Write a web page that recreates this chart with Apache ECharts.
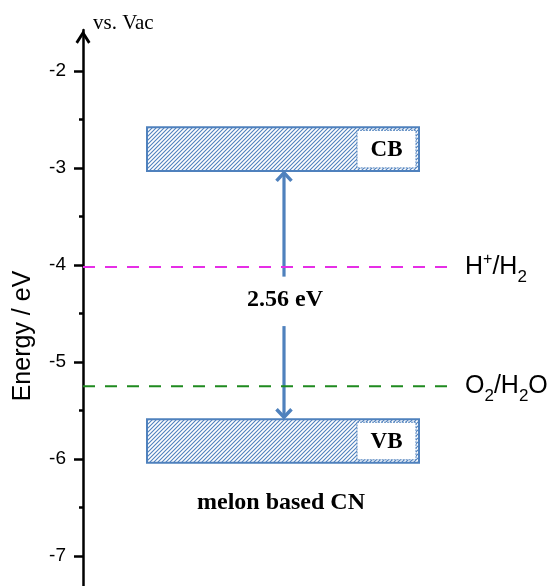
<!DOCTYPE html>
<html>
<head>
<meta charset="utf-8">
<script src="https://cdn.jsdelivr.net/npm/echarts@6/dist/echarts.min.js"></script>
<style>
html, body { margin: 0; padding: 0; background: #fff; }
#main { width: 550px; height: 586px; }
</style>
</head>
<body>
<div id="main"></div>
<script>
// band edges (eV vs. vacuum)
var bandNames = ['CB', 'VB'];
var bandTop = [-2.58, -5.59];
var bandBottom = [-3.03, -6.04];
// redox potentials
var redoxNames = ['H{sup|+}/H{sub|2}', 'O{sub|2}/H{sub|2}O'];
var redoxLevels = [-4.02, -5.25];
var redoxColors = ['#e62ee6', '#1f8a1f'];
var gapText = '2.56 eV';
var sampleText = 'melon based CN';
// axis ticks
var majorTicks = [-7, -6, -5, -4, -3, -2];
var minorTicks = [-6.5, -5.5, -4.5, -3.5, -2.5];

var blue = '#4f81bd';

// hatch pattern for the band boxes
var hatch = document.createElement('canvas');
hatch.width = 4; hatch.height = 4;
var hc = hatch.getContext('2d');
hc.fillStyle = '#fff';
hc.fillRect(0, 0, 4, 4);
hc.strokeStyle = blue;
hc.lineWidth = 1.1;
hc.beginPath();
hc.moveTo(0, 4); hc.lineTo(4, 0);
hc.moveTo(-1, 1); hc.lineTo(1, -1);
hc.moveTo(3, 5); hc.lineTo(5, 3);
hc.stroke();

function renderBand(params, api) {
  var top = api.value(0), bot = api.value(1);
  var p0 = api.coord([64, top]), p1 = api.coord([336, bot]);
  var q0 = api.coord([274, top]), q1 = api.coord([333, bot]);
  return {
    type: 'group',
    children: [
      { type: 'rect', shape: { x: p0[0], y: p0[1], width: p1[0] - p0[0], height: p1[1] - p0[1] },
        style: { fill: { image: hatch, repeat: 'repeat' }, stroke: blue, lineWidth: 2 } },
      { type: 'rect', shape: { x: q0[0], y: p0[1] + 3, width: q1[0] - q0[0], height: p1[1] - p0[1] - 6 },
        style: { fill: '#fff', stroke: blue, lineWidth: 1, lineDash: [2, 1] } },
      { type: 'text', style: { text: bandNames[params.dataIndex], x: (q0[0] + q1[0]) / 2, y: (p0[1] + p1[1]) / 2 + 1,
        align: 'center', verticalAlign: 'middle', font: 'bold 23px "Liberation Serif"', fill: '#000' } }
    ]
  };
}

function renderArrow(params, api) {
  var tip = api.coord([api.value(0), api.value(1)]);
  var tail = api.coord([api.value(0), api.value(2)]);
  var d = tip[1] < tail[1] ? 1 : -1;
  var x = tip[0];
  return {
    type: 'group',
    children: [
      { type: 'polyline', shape: { points: [[x, tail[1]], [x, tip[1] + d * 2]] },
        style: { stroke: blue, lineWidth: 3.2, fill: null } },
      { type: 'polyline', shape: { points: [[x - 7.5, tip[1] + d * 10], [x, tip[1] + d * 2], [x + 7.5, tip[1] + d * 10]] },
        style: { stroke: blue, lineWidth: 3.5, fill: null, lineJoin: 'miter' } }
    ]
  };
}

var series = [];
redoxLevels.forEach(function (lvl, i) {
  series.push({
    type: 'line',
    data: [[0, lvl], [370, lvl]],
    symbol: 'none',
    silent: true,
    lineStyle: { color: redoxColors[i], width: 2, type: [12, 10] },
    endLabel: {
      show: true,
      distance: 12,
      formatter: redoxNames[i],
      color: '#000',
      fontFamily: 'Liberation Sans',
      fontSize: 25,
      rich: {
        sup: { fontSize: 16, fontFamily: 'Liberation Sans', color: '#000', padding: [0, 0, 15, 0] },
        sub: { fontSize: 17, fontFamily: 'Liberation Sans', color: '#000', padding: [20, 0, 0, 0] }
      }
    }
  });
});
series.push({
  type: 'custom',
  renderItem: renderBand,
  data: bandTop.map(function (t, i) { return [t, bandBottom[i]]; }),
  silent: true
});
series.push({
  type: 'custom',
  renderItem: renderArrow,
  data: [[201, bandBottom[0], -4.12], [201, bandTop[1], -4.63]],
  silent: true
});
series.push({
  type: 'scatter',
  symbolSize: 0,
  silent: true,
  itemStyle: { opacity: 1 },
  data: [[202, -4.36, gapText], [198, -6.45, sampleText]],
  label: {
    show: true,
    position: 'inside',
    formatter: function (p) { return p.value[2]; },
    color: '#000',
    opacity: 1,
    fontFamily: 'Liberation Serif',
    fontWeight: 'bold',
    fontSize: 24
  }
});

var chart = echarts.init(document.getElementById('main'));
chart.setOption({
  backgroundColor: '#fff',
  animation: false,
  grid: { left: 83, right: 0, top: 30, bottom: 0, outerBoundsMode: 'none' },
  xAxis: { type: 'value', min: 0, max: 467, show: false },
  yAxis: [
    {
      type: 'value', min: -7.31, max: -1.577, position: 'left',
      name: 'vs. Vac', nameLocation: 'end', nameGap: 7,
      nameTextStyle: { fontFamily: 'Liberation Serif', fontSize: 21, color: '#000', align: 'left', verticalAlign: 'middle', padding: [0, 0, 0, 10] },
      axisLine: { show: true, lineStyle: { color: '#000', width: 2.5 },
        symbol: ['none', 'path://M0,11 L7,0 L14,11 L11.8,12.8 L7,5 L2.2,12.8 Z'], symbolSize: [15, 14], symbolOffset: [0, -7] },
      axisTick: { show: true, length: 9, lineStyle: { color: '#000', width: 2.5 }, customValues: majorTicks },
      axisLabel: { show: true, margin: 17, color: '#000', fontFamily: 'Liberation Sans', fontSize: 19, customValues: majorTicks },
      splitLine: { show: false }
    },
    {
      type: 'value', min: -7.31, max: -1.577, position: 'left', offset: 0,
      axisLine: { show: false },
      axisTick: { show: true, length: 4, lineStyle: { color: '#000', width: 2.5 }, customValues: minorTicks },
      axisLabel: { show: false },
      splitLine: { show: false }
    }
  ],
  graphic: [{
    type: 'text', x: 23, y: 336, rotation: Math.PI / 2,
    style: { text: 'Energy / eV', font: '25px "Liberation Sans"', align: 'center', verticalAlign: 'middle', fill: '#000' }
  }],
  series: series
});
</script>
</body>
</html>
